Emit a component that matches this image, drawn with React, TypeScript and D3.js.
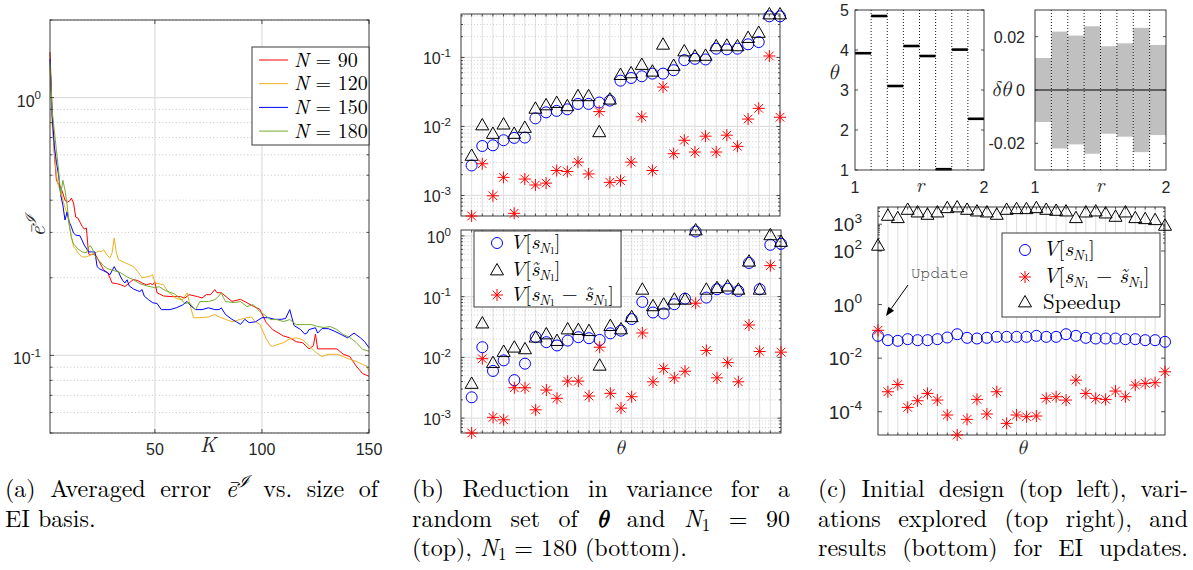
import React, { useLayoutEffect, useRef } from 'react';
import * as d3 from 'd3';

// ---------------- Panel (a): averaged EI error vs K ----------------
const K_N90 = [1,2,3,4,5,6,7,8,9,10,11,12,13,14,15,16,17,18,19,20,22,24,26,28,30,32,34,36,38,40,42,44,46,48,49,50,51,54,58,62,64,66,70,72,74,76,78,79,81,84,86,90,93,96,99,102,105,110,113,116,119,122,124,125,126,130,135,138,141,144,147,150];
const E_N90 = [1.50,0.88,0.608,0.478,0.461,0.449,0.426,0.400,0.393,0.396,0.407,0.390,0.344,0.341,0.329,0.317,0.309,0.312,0.248,0.2455,0.248,0.231,0.215,0.209,0.191,0.190,0.188,0.185,0.191,0.197,0.195,0.191,0.188,0.190,0.188,0.193,0.175,0.170,0.169,0.169,0.167,0.172,0.169,0.167,0.172,0.172,0.180,0.175,0.175,0.167,0.162,0.165,0.160,0.155,0.151,0.134,0.126,0.119,0.117,0.113,0.112,0.106,0.109,0.121,0.106,0.106,0.106,0.101,0.099,0.091,0.085,0.083];
const K_N120 = [1,2,3,4,5,6,7,8,9,10,11,12,13,14,16,18,20,22,24,25,26,28,29,30,31,32,33,36,40,42,44,46,48,49,50,54,56,60,63,65,66,68,71,75,78,80,83,86,90,93,95,97,99,102,104,105,107,110,113,116,119,122,125,128,131,135,138,141,144,147,149,150];
const E_N120 = [1.30,0.78,0.624,0.500,0.449,0.441,0.400,0.376,0.353,0.320,0.290,0.264,0.259,0.250,0.241,0.241,0.2455,0.250,0.254,0.252,0.257,0.243,0.239,0.250,0.2855,0.250,0.235,0.229,0.221,0.211,0.200,0.2015,0.2035,0.2055,0.191,0.188,0.177,0.166,0.1645,0.175,0.162,0.140,0.140,0.141,0.144,0.141,0.138,0.135,0.138,0.140,0.141,0.135,0.132,0.116,0.109,0.1085,0.110,0.112,0.116,0.117,0.115,0.109,0.103,0.099,0.101,0.101,0.099,0.0965,0.0948,0.0923,0.0907,0.0867];
const K_N150 = [1,2,3,4,5,6,7,8,9,10,11,12,13,15,17,19,21,22,23,24,26,28,29,31,32,33,34,35,36,37,38,40,42,43,44,45,47,49,51,53,57,60,63,65,67,69,72,75,78,80,81,83,86,88,90,91,92,94,97,100,103,106,109,111,113,114,115,118,120,121,122,125,126,128,131,134,137,140,143,146,148,150];
const E_N150 = [1.41,0.852,0.653,0.561,0.500,0.418,0.383,0.335,0.360,0.329,0.315,0.298,0.293,0.291,0.268,0.252,0.252,0.252,0.221,0.217,0.213,0.209,0.2055,0.221,0.213,0.211,0.2015,0.195,0.191,0.1965,0.186,0.181,0.178,0.177,0.180,0.170,0.1645,0.160,0.159,0.1505,0.1505,0.153,0.157,0.162,0.155,0.1505,0.1505,0.153,0.1505,0.1505,0.153,0.144,0.138,0.135,0.132,0.135,0.138,0.134,0.135,0.140,0.140,0.138,0.138,0.139,0.1505,0.140,0.1305,0.126,0.121,0.122,0.126,0.128,0.122,0.127,0.127,0.124,0.1205,0.117,0.122,0.117,0.113,0.107];
const K_N180 = [1,2,3,4,5,6,7,8,9,10,11,12,14,16,18,19,20,21,22,24,26,28,31,34,37,40,43,46,48,50,52,55,59,62,64,66,68,69,71,75,78,80,81,82,83,87,90,93,96,99,101,104,107,110,113,116,120,123,126,129,132,135,138,141,144,147,150];
const E_N180 = [1.38,0.891,0.746,0.624,0.523,0.418,0.478,0.4375,0.383,0.320,0.2855,0.2706,0.259,0.252,0.250,0.2635,0.266,0.2566,0.2433,0.2327,0.2227,0.2167,0.2131,0.2092,0.2015,0.1965,0.1897,0.1863,0.1847,0.183,0.1847,0.1782,0.1735,0.1659,0.1589,0.1603,0.1533,0.1505,0.1617,0.1617,0.1645,0.1704,0.1753,0.1674,0.1617,0.1603,0.1617,0.1546,0.1574,0.1478,0.144,0.1377,0.1377,0.1353,0.1377,0.1317,0.1317,0.1317,0.1294,0.1283,0.1294,0.126,0.1205,0.1174,0.1123,0.1055,0.1037];
const A_LABELS = ['90', '120', '150', '180'];
const A_X_TICKS = [50, 100, 150];

// ---------------- Panel (b): variance reduction, N1 = 90 (top) / 180 (bottom) ----------------
const B_TOP_V = [2.72e-3,5.21e-3,5.33e-3,6.31e-3,6.83e-3,6.90e-3,1.31e-2,1.60e-2,1.68e-2,1.77e-2,2.12e-2,2.12e-2,2.22e-2,2.37e-2,4.61e-2,5.04e-2,5.33e-2,5.83e-2,5.83e-2,6.53e-2,9.14e-2,9.55e-2,9.35e-2,0.134,0.131,0.134,0.155,0.167,0.394,0.394];
const B_TOP_VT = [3.80e-3,1.05e-2,7.91e-3,1.08e-2,7.91e-3,9.66e-3,1.83e-2,2.05e-2,2.22e-2,1.99e-2,2.78e-2,2.78e-2,8.36e-3,2.48e-2,5.64e-2,5.97e-2,7.90e-2,6.31e-2,0.155,7.64e-2,0.124,0.105,0.107,0.147,0.150,0.147,0.194,0.230,0.426,0.426];
const B_TOP_VD = [5.04e-4,2.88e-3,9.89e-4,1.83e-3,5.51e-4,1.73e-3,1.42e-3,1.51e-3,2.30e-3,2.22e-3,3.04e-3,2.05e-3,1.64e-2,1.55e-3,1.64e-3,3.04e-3,1.38e-2,2.30e-3,3.72e-2,4.03e-3,6.31e-3,4.26e-3,7.23e-3,4.26e-3,7.47e-3,5.15e-3,1.28e-2,1.83e-2,0.105,1.36e-2];
const B_BOT_V = [2.20e-3,1.47e-2,5.98e-3,8.93e-3,4.22e-3,7.88e-3,2.15e-2,1.78e-2,1.57e-2,1.89e-2,2.15e-2,2.07e-2,1.94e-2,2.49e-2,2.75e-2,4.27e-2,8.18e-2,5.48e-2,5.28e-2,7.50e-2,9.27e-2,1.18,9.64e-2,0.132,0.135,0.124,0.358,0.132,0.713,0.741];
const B_BOT_VT = [3.72e-3,3.67e-2,8.18e-3,1.25e-2,1.47e-2,1.38e-2,2.15e-2,2.43e-2,1.89e-2,2.93e-2,2.86e-2,2.75e-2,7.41e-3,3.33e-2,2.93e-2,4.66e-2,0.132,7.05e-2,7.50e-2,9.05e-2,9.05e-2,1.25,0.132,0.140,0.149,0.132,0.382,0.132,1.04,0.809];
const B_BOT_VD = [5.69e-4,9.51e-3,1.03e-3,9.39e-4,3.16e-3,3.16e-3,1.37e-3,2.90e-3,2.12e-3,4.06e-3,4.06e-3,2.31e-3,1.47e-2,2.56e-3,1.46e-3,2.25e-3,2.52e-2,3.96e-3,6.53e-3,4.60e-3,5.91e-3,7.79e-2,1.30e-2,4.60e-3,8.18e-3,3.96e-3,3.41e-2,1.25e-2,0.324,1.22e-2];

// ---------------- Panel (c): initial design, variations, EI update results ----------------
const C_THETA0 = [3.92, 4.85, 3.10, 4.10, 3.85, 1.02, 4.01, 2.28];
const C_DTHETA = [0.012, 0.0219, 0.0204, 0.0239, 0.0164, 0.0175, 0.0233, 0.0169];
const C_THETA_TICKS = [1, 2, 3, 4, 5];
const C_DTHETA_TICKS = [-0.02, 0, 0.02];
const C_V = [0.068,0.0469,0.0443,0.0511,0.0469,0.0469,0.0511,0.0589,0.0784,0.0573,0.0541,0.0573,0.0624,0.0624,0.0624,0.0624,0.068,0.0624,0.0624,0.0784,0.068,0.0573,0.0541,0.0541,0.0541,0.0511,0.0511,0.0469,0.0469,0.0406];
const C_VD = [0.110,5.56e-4,1.04e-3,1.45e-4,2.57e-4,4.82e-4,2.72e-4,7.52e-5,1.35e-5,5.18e-5,2.88e-4,8.19e-5,5.56e-4,3.67e-5,7.52e-5,6.51e-5,6.90e-5,3.14e-4,3.62e-4,2.72e-4,1.51e-3,4.82e-4,3.14e-4,2.88e-4,5.89e-4,3.62e-4,9.86e-4,1.14e-3,1.21e-3,3.10e-3];
const C_SPEEDUP = [163,2134,1747,3571,2841,2325,2841,4120,4400,3571,3096,2841,2325,3571,3782,3782,4120,3571,3278,3096,1747,2841,3096,2608,1958,2841,1747,1603,1472,905];
const C_Y_TICKS = [1e-4, 1e-2, 1, 1e2, 1e3];

// ---------------- style constants ----------------
const AX = '#262626';
const MAJ = '#e0e0e0';
const MIN = '#b8b8b8';
const SANS = { fontFamily: '"Liberation Sans", Arial, sans-serif' };
const SERIF = { fontFamily: '"Latin Modern Roman", "Liberation Serif", "Times New Roman"' };
const GREEK = { fontFamily: '"Latin Modern Math", "Liberation Serif", "Latin Modern Roman"' };
const MONO = { fontFamily: '"FreeMono", "Nimbus Mono PS", "Liberation Mono", monospace' };

function logTicks(lo: number, hi: number) {
  const majors: number[] = [];
  const minors: number[] = [];
  for (let e = Math.floor(Math.log10(lo)); e <= Math.ceil(Math.log10(hi)); e++) {
    for (let m = 1; m <= 9; m++) {
      const v = m * Math.pow(10, e);
      if (v < lo * 0.9999 || v > hi * 1.0001) continue;
      (m === 1 ? majors : minors).push(v);
    }
  }
  return { majors, minors };
}

function Circ({ cx, cy, r = 5.5 }: any) {
  return <circle cx={cx} cy={cy} r={r} fill="none" stroke="#0000ff" strokeWidth={1} />;
}
function Tri({ cx, cy, s = 6.5 }: any) {
  return <path d={`M${cx},${cy - s}L${cx + s},${cy + s * 0.75}L${cx - s},${cy + s * 0.75}Z`} fill="none" stroke="#000" strokeWidth={1} />;
}
function Star({ cx, cy, s = 6 }: any) {
  const a = s * 0.72;
  return (
    <path
      d={`M${cx - s},${cy}H${cx + s}M${cx},${cy - s}V${cy + s}M${cx - a},${cy - a}L${cx + a},${cy + a}M${cx - a},${cy + a}L${cx + a},${cy - a}`}
      stroke="#ff0000" strokeWidth={1} fill="none" />
  );
}

function Pow10({ x, y, exp, size }: any) {
  return (
    <text x={x} y={y} style={SANS} fontSize={size} fill={AX} textAnchor="end">
      10<tspan fontSize={size * 0.72} dy={-size * 0.45}>{exp}</tspan>
    </text>
  );
}

function Box({ L, R, T, B }: any) {
  return <rect x={L} y={T} width={R - L} height={B - T} fill="none" stroke={AX} strokeWidth={0.9} />;
}

function YTicks({ L, R, ys, len }: any) {
  return (
    <g stroke={AX} strokeWidth={0.8}>
      {ys.map((y: number, i: number) => (
        <g key={i}>
          <line x1={L} x2={L + len} y1={y} y2={y} />
          <line x1={R - len} x2={R} y1={y} y2={y} />
        </g>
      ))}
    </g>
  );
}
function XTicks({ T, B, xs, len }: any) {
  return (
    <g stroke={AX} strokeWidth={0.8}>
      {xs.map((x: number, i: number) => (
        <g key={i}>
          <line x1={x} x2={x} y1={B} y2={B - len} />
          <line x1={x} x2={x} y1={T} y2={T + len} />
        </g>
      ))}
    </g>
  );
}

function JText({ x, y, width, justify = false, children }: any) {
  const ref = useRef<SVGTextElement>(null);
  useLayoutEffect(() => {
    const el = ref.current;
    if (!el || !justify) return;
    el.style.wordSpacing = '0px';
    const w = el.getComputedTextLength();
    const n = ((el.textContent || '').match(/ /g) || []).length;
    if (n > 0) el.style.wordSpacing = `${(width - w) / n}px`;
  }, [justify, width]);
  return (
    <text ref={ref} x={x} y={y} style={SERIF} fontSize={24} fill="#000">{children}</text>
  );
}

// ---------------- Panel (a) ----------------
function PanelA() {
  const L = 50, R = 369, T = 20, B = 433;
  const x = d3.scaleLinear().domain([1, 150]).range([L, R]);
  const y = d3.scaleLog().domain([0.05, 2]).range([B, T]);
  const { majors, minors } = logTicks(0.05, 2);
  const line = d3.line<number[]>().x((d) => x(d[0])).y((d) => y(d[1]));
  const series = [
    { k: K_N90, e: E_N90, c: '#ff0000' },
    { k: K_N120, e: E_N120, c: '#edb120' },
    { k: K_N150, e: E_N150, c: '#0000ff' },
    { k: K_N180, e: E_N180, c: '#77ac30' },
  ];
  return (
    <g>
      {minors.map((v, i) => (
        <line key={'mi' + i} x1={L} x2={R} y1={y(v)} y2={y(v)} stroke={MIN} strokeWidth={0.8} strokeDasharray="1,2.4" />
      ))}
      {majors.map((v, i) => (
        <line key={'ma' + i} x1={L} x2={R} y1={y(v)} y2={y(v)} stroke={MAJ} strokeWidth={1.3} />
      ))}
      {A_X_TICKS.filter((v) => v < 150).map((v, i) => (
        <line key={'vx' + i} x1={x(v)} x2={x(v)} y1={T} y2={B} stroke={MAJ} strokeWidth={1.3} />
      ))}
      {series.map((s, i) => {
        const n = Math.min(s.k.length, s.e.length);
        const pts = d3.range(n).map((j) => [s.k[j], s.e[j]]);
        return <path key={i} d={line(pts) || ''} fill="none" stroke={s.c} strokeWidth={1} />;
      })}
      <Box L={L} R={R} T={T} B={B} />
      <YTicks L={L} R={R} ys={majors.map((v) => y(v))} len={4} />
      <YTicks L={L} R={R} ys={minors.map((v) => y(v))} len={2.5} />
      <XTicks T={T} B={B} xs={A_X_TICKS.map((v) => x(v))} len={4} />
      {majors.map((v, i) => (
        <Pow10 key={'yl' + i} x={41} y={y(v) + 9} exp={String(Math.round(Math.log10(v)))} size={16} />
      ))}
      {A_X_TICKS.map((v, i) => (
        <text key={'xl' + i} x={x(v)} y={455} style={SANS} fontSize={16} fill={AX} textAnchor="middle">{v}</text>
      ))}
      <text x={208} y={452} style={SERIF} fontStyle="italic" fontSize={21} fill={AX} textAnchor="middle">K</text>
      <text transform="translate(45,226) rotate(-90)" style={SERIF} fontSize={22} fill={AX} textAnchor="middle">
        <tspan fontStyle="italic">ē</tspan><tspan fontSize={15} dy={-9} fontStyle="italic">ℐ</tspan>
      </text>
      <rect x={252} y={47} width={117} height={98} fill="#fff" stroke={AX} strokeWidth={0.9} />
      {series.map((s, i) => {
        const yy = 60 + i * 23.7;
        return (
          <g key={'lg' + i}>
            <line x1={259} x2={288} y1={yy} y2={yy} stroke={s.c} strokeWidth={1} />
            <text x={294} y={yy + 6.5} style={SERIF} fontSize={20} fill="#000">
              <tspan fontStyle="italic">N</tspan>{' = ' + A_LABELS[i]}
            </text>
          </g>
        );
      })}
    </g>
  );
}

// ---------------- Panel (b) ----------------
function VLabel({ x, y, kind, size = 20.5 }: any) {
  const sub = (
    <>
      <tspan fontStyle="italic" fontSize={size * 0.68} dy={3.5}>N</tspan>
      <tspan fontSize={size * 0.5} dy={1.5}>1</tspan>
    </>
  );
  return (
    <text x={x} y={y} style={SERIF} fontSize={size} fill="#000">
      <tspan fontStyle="italic">V</tspan>
      <tspan>[</tspan>
      <tspan fontStyle="italic">{kind === 1 ? 's\u0303' : 's'}</tspan>
      {sub}
      {kind === 2 ? (
        <>
          <tspan dy={-5}>{' \u2212 '}</tspan>
          <tspan fontStyle="italic">{'s\u0303'}</tspan>
          {sub}
        </>
      ) : null}
      <tspan dy={-5}>]</tspan>
    </text>
  );
}

function PanelB({ T, B, R, v, vt, vd, legend }: any) {
  const L = 461;
  const x = d3.scaleLinear().domain([0, 30]).range([L, R]);
  const all = [...v, ...vt, ...vd];
  const y = d3.scaleLog().domain(d3.extent(all) as [number, number]).range([B, T]);
  const [lo, hi] = y.domain();
  const { majors, minors } = logTicks(lo, hi);
  const idx = d3.range(1, 31);
  const inner = d3.range(1, 30);
  return (
    <g>
      {inner.map((i) => (
        <line key={'gx' + i} x1={x(i)} x2={x(i)} y1={T} y2={B} stroke={MAJ} strokeWidth={1} />
      ))}
      {minors.map((m, i) => (
        <line key={'mi' + i} x1={L} x2={R} y1={y(m)} y2={y(m)} stroke={MIN} strokeWidth={0.7} strokeDasharray="1,2.2" />
      ))}
      {majors.map((m, i) => (
        <line key={'ma' + i} x1={L} x2={R} y1={y(m)} y2={y(m)} stroke={MAJ} strokeWidth={1.2} />
      ))}
      <Box L={L} R={R} T={T} B={B} />
      <YTicks L={L} R={R} ys={majors.map((m) => y(m))} len={3.5} />
      <YTicks L={L} R={R} ys={minors.map((m) => y(m))} len={2} />
      <XTicks T={T} B={B} xs={inner.map((i) => x(i))} len={2.5} />
      {idx.map((i) => <Circ key={'c' + i} cx={x(i)} cy={y(v[i - 1])} />)}
      {idx.map((i) => <Tri key={'t' + i} cx={x(i)} cy={y(vt[i - 1])} />)}
      {idx.map((i) => <Star key={'s' + i} cx={x(i)} cy={y(vd[i - 1])} />)}
      {majors.map((m, i) => (
        <Pow10 key={'yl' + i} x={451} y={y(m) + 7} exp={String(Math.round(Math.log10(m)))} size={16} />
      ))}
      {legend ? (
        <g>
          <rect x={474} y={231} width={147} height={76} fill="#fff" stroke={AX} strokeWidth={0.9} />
          <Circ cx={497} cy={243} />
          <Tri cx={497} cy={270} />
          <Star cx={497} cy={295} />
          <VLabel x={510} y={249} kind={0} />
          <VLabel x={510} y={276} kind={1} />
          <VLabel x={510} y={301} kind={2} />
          <text x={620} y={454} style={GREEK} fontStyle="italic" fontSize={20} fill={AX} textAnchor="middle">θ</text>
        </g>
      ) : null}
    </g>
  );
}

// ---------------- Panel (c) ----------------
function PanelCTop() {
  const T = 10, B = 170;
  const L1 = 855, R1 = 984;
  const L2 = 1035, R2 = 1166;
  const segs = d3.range(0, 8);
  const x1 = d3.scaleLinear().domain([1, 2]).range([L1, R1]);
  const y1 = d3.scaleLinear().domain([1, 5]).range([B, T]);
  const x2 = d3.scaleLinear().domain([1, 2]).range([L2, R2]);
  const y2 = d3.scaleLinear().domain([-0.03, 0.03]).range([B, T]);
  const bounds = d3.range(1, 8).map((i) => 1 + i / 8);
  return (
    <g>
      {bounds.map((b, i) => (
        <line key={'d1' + i} x1={x1(b)} x2={x1(b)} y1={T} y2={B} stroke="#000" strokeWidth={0.9} strokeDasharray="1,2" />
      ))}
      {segs.map((i) => (
        <line key={'th' + i} x1={x1(1 + i / 8)} x2={x1(1 + (i + 1) / 8)} y1={y1(C_THETA0[i])} y2={y1(C_THETA0[i])} stroke="#000" strokeWidth={2.6} />
      ))}
      <Box L={L1} R={R1} T={T} B={B} />
      <YTicks L={L1} R={R1} ys={C_THETA_TICKS.map((v) => y1(v))} len={3} />
      {C_THETA_TICKS.map((v, i) => (
        <text key={'tl' + i} x={849} y={y1(v) + 6} style={SANS} fontSize={16} fill={AX} textAnchor="end">{v}</text>
      ))}
      <text x={833} y={79} style={GREEK} fontStyle="italic" fontSize={21} fill={AX} textAnchor="middle">θ</text>
      <text x={L1} y={193} style={SANS} fontSize={16} fill={AX} textAnchor="middle">1</text>
      <text x={R1} y={193} style={SANS} fontSize={16} fill={AX} textAnchor="middle">2</text>
      <text x={920} y={192} style={SERIF} fontStyle="italic" fontSize={20} fill={AX} textAnchor="middle">r</text>

      {segs.map((i) => (
        <rect key={'g' + i} x={x2(1 + i / 8)} width={x2(1 + (i + 1) / 8) - x2(1 + i / 8)} y={y2(C_DTHETA[i])}
          height={y2(-C_DTHETA[i]) - y2(C_DTHETA[i])} fill="#c0c0c0" />
      ))}
      {bounds.map((b, i) => (
        <line key={'d2' + i} x1={x2(b)} x2={x2(b)} y1={T} y2={B} stroke="#000" strokeWidth={0.9} strokeDasharray="1,2" />
      ))}
      <line x1={L2} x2={R2} y1={y2(0)} y2={y2(0)} stroke="#000" strokeWidth={1.2} />
      <Box L={L2} R={R2} T={T} B={B} />
      <YTicks L={L2} R={R2} ys={C_DTHETA_TICKS.map((v) => y2(v))} len={3} />
      {C_DTHETA_TICKS.map((v, i) => (
        <text key={'dl' + i} x={1025} y={y2(v) + 6} style={SANS} fontSize={16} fill={AX} textAnchor="end">{v === 0 ? '0' : v.toFixed(2)}</text>
      ))}
      <text x={1001} y={96} style={GREEK} fontStyle="italic" fontSize={21} fill={AX} textAnchor="middle">δθ</text>
      <text x={L2} y={193} style={SANS} fontSize={16} fill={AX} textAnchor="middle">1</text>
      <text x={R2} y={193} style={SANS} fontSize={16} fill={AX} textAnchor="middle">2</text>
      <text x={1100} y={192} style={SERIF} fontStyle="italic" fontSize={20} fill={AX} textAnchor="middle">r</text>
    </g>
  );
}

function PanelCBottom() {
  const L = 878, R = 1165, T = 207, B = 435;
  const x = d3.scaleLinear().domain([1, 30]).range([L, R]);
  const all = [...C_V, ...C_VD, ...C_SPEEDUP];
  const y = d3.scaleLog().domain(d3.extent(all) as [number, number]).range([B, T]);
  const hi = y.domain()[1];
  const minorsTop = logTicks(100, hi).minors;
  const idx = d3.range(1, 31);
  const inner = d3.range(2, 30);
  const ax0 = 908, ay0 = 285, ax1 = 886, ay1 = 316;
  const dx = ax1 - ax0, dy = ay1 - ay0, len = Math.hypot(dx, dy);
  const ux = dx / len, uy = dy / len;
  const bx = ax1 - ux * 9, by = ay1 - uy * 9;
  const nx = -uy, ny = ux;
  return (
    <g>
      {inner.map((i) => (
        <line key={'gx' + i} x1={x(i)} x2={x(i)} y1={T} y2={B} stroke={MAJ} strokeWidth={1.1} />
      ))}
      <Box L={L} R={R} T={T} B={B} />
      <YTicks L={L} R={R} ys={C_Y_TICKS.map((v) => y(v))} len={4} />
      <YTicks L={L} R={R} ys={minorsTop.map((v) => y(v))} len={2} />
      <XTicks T={T} B={B} xs={inner.map((i) => x(i))} len={2.5} />
      {idx.map((i) => <Circ key={'c' + i} cx={x(i)} cy={y(C_V[i - 1])} />)}
      {idx.map((i) => <Star key={'s' + i} cx={x(i)} cy={y(C_VD[i - 1])} />)}
      {idx.map((i) => <Tri key={'t' + i} cx={x(i)} cy={y(C_SPEEDUP[i - 1])} />)}
      {C_Y_TICKS.map((v, i) => (
        <Pow10 key={'yl' + i} x={862} y={y(v) + 7} exp={String(Math.round(Math.log10(v)))} size={19} />
      ))}
      <text x={1022} y={454} style={GREEK} fontStyle="italic" fontSize={20} fill={AX} textAnchor="middle">θ</text>
      <text x={911} y={278} style={MONO} fontSize={16} fill="#444">Update</text>
      <line x1={ax0} y1={ay0} x2={bx} y2={by} stroke="#000" strokeWidth={1} />
      <path d={`M${ax1},${ay1}L${bx + nx * 3.5},${by + ny * 3.5}L${bx - nx * 3.5},${by - ny * 3.5}Z`} fill="#000" />
      <rect x={1002} y={233} width={158} height={84} fill="#fff" stroke={AX} strokeWidth={0.9} />
      <Circ cx={1025} cy={250} />
      <Star cx={1025} cy={277} />
      <Tri cx={1025} cy={302} />
      <VLabel x={1043} y={256} kind={0} size={21} />
      <VLabel x={1043} y={283} kind={2} size={21} />
      <text x={1043} y={309} style={SERIF} fontSize={21} fill="#000">Speedup</text>
    </g>
  );
}

function Captions() {
  const y1 = 497, y2 = 526.5, y3 = 556;
  return (
    <g>
      <JText x={5} y={y1} width={373} justify>
        {'(a) Averaged error '}
        <tspan fontStyle="italic">ē</tspan>
        <tspan fontStyle="italic" fontSize={16} dy={-10}>ℐ</tspan>
        <tspan dy={10}>{' vs. size of'}</tspan>
      </JText>
      <JText x={5} y={y2} width={100}>EI basis.</JText>

      <JText x={412} y={y1} width={378} justify>(b) Reduction in variance for a</JText>
      <JText x={412} y={y2} width={378} justify>
        {'random set of '}
        <tspan fontStyle="italic" fontWeight="bold" style={GREEK}>θ</tspan>
        {' and '}
        <tspan fontStyle="italic">N</tspan>
        <tspan fontSize={17} dy={4}>1</tspan>
        <tspan dy={-4}>{' = 90'}</tspan>
      </JText>
      <JText x={412} y={y3} width={300}>
        {'(top), '}
        <tspan fontStyle="italic">N</tspan>
        <tspan fontSize={17} dy={4}>1</tspan>
        <tspan dy={-4}>{' = 180 (bottom).'}</tspan>
      </JText>

      <JText x={818} y={y1} width={370} justify>(c) Initial design (top left), vari-</JText>
      <JText x={818} y={y2} width={370} justify>ations explored (top right), and</JText>
      <JText x={818} y={y3} width={370} justify>results (bottom) for EI updates.</JText>
    </g>
  );
}

export default function App() {
  return (
    <svg width={1193} height={570} viewBox="0 0 1193 570"
      style={{ position: 'absolute', left: 0, top: 0, background: '#fff', display: 'block' }}>
      <rect x={0} y={0} width={1193} height={570} fill="#fff" />
      <PanelA />
      <PanelB T={14} B={216} R={780} v={B_TOP_V} vt={B_TOP_VT} vd={B_TOP_VD} legend={false} />
      <PanelB T={230} B={433} R={781} v={B_BOT_V} vt={B_BOT_VT} vd={B_BOT_VD} legend={true} />
      <PanelCTop />
      <PanelCBottom />
      <Captions />
    </svg>
  );
}
